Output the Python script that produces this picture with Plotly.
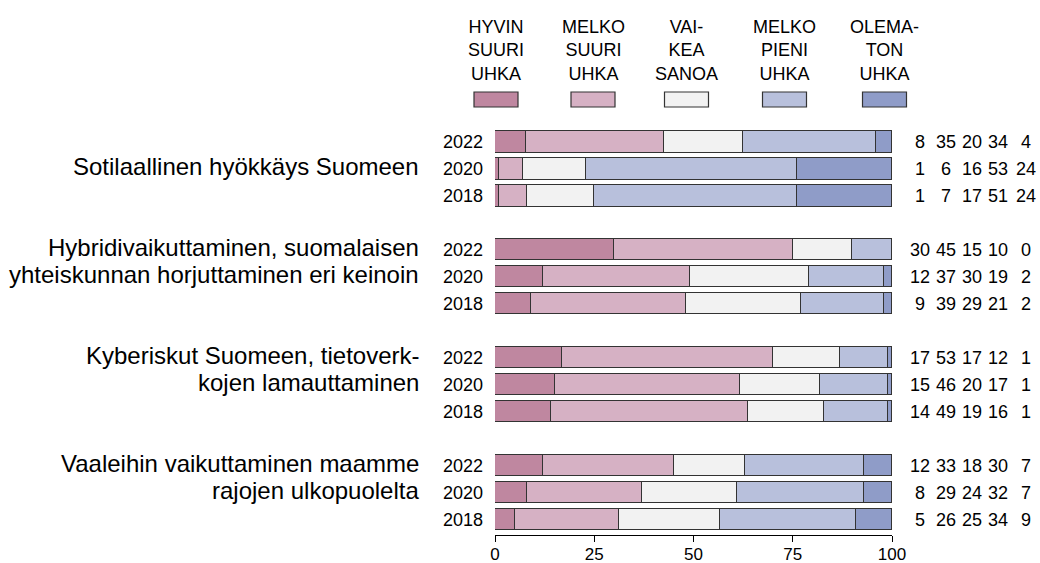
import plotly.graph_objects as go

categories = [
    "Sotilaallinen hyökkäys Suomeen",
    "Hybridivaikuttaminen, suomalaisen<br>yhteiskunnan horjuttaminen eri keinoin",
    "Kyberiskut Suomeen, tietoverk-<br>kojen lamauttaminen",
    "Vaaleihin vaikuttaminen maamme<br>rajojen ulkopuolelta",
]
years = ["2022", "2020", "2018"]
series_names = ["HYVIN<br>SUURI<br>UHKA", "MELKO<br>SUURI<br>UHKA", "VAI-<br>KEA<br>SANOA",
                "MELKO<br>PIENI<br>UHKA", "OLEMA-<br>TON<br>UHKA"]
colors = ["#BF87A0", "#D6B1C4", "#F2F2F2", "#B8C0DC", "#8F9CC8"]

# values per category, per year (2022, 2020, 2018), five answer classes
values = [
    [[8, 35, 20, 34, 4], [1, 6, 16, 53, 24], [1, 7, 17, 51, 24]],
    [[30, 45, 15, 10, 0], [12, 37, 30, 19, 2], [9, 39, 29, 21, 2]],
    [[17, 53, 17, 12, 1], [15, 46, 20, 17, 1], [14, 49, 19, 16, 1]],
    [[12, 33, 18, 30, 7], [8, 29, 24, 32, 7], [5, 26, 25, 34, 9]],
]

FONT = "Arial, Liberation Sans, sans-serif"
OUT = "#333333"

# row positions: 3 bars per group + one empty row
rows, row_vals, row_years = [], [], []
for g, grp in enumerate(values):
    for i, v in enumerate(grp):
        rows.append(g * 4 + i)
        row_vals.append(v)
        row_years.append(years[i])

fig = go.Figure()
for k in range(5):
    xs = [rv[k] / sum(rv) * 100 for rv in row_vals]
    fig.add_trace(go.Bar(
        y=rows, x=xs, orientation="h", width=0.78,
        marker=dict(color=colors[k], line=dict(color=OUT, width=1.2)),
        showlegend=False, hoverinfo="skip",
    ))

annotations = []
# category labels: n lines placed so that lines sit on rows
for g, cat in enumerate(categories):
    lines = cat.split("<br>")
    n = len(lines)
    start = 1 - (n - 1)
    for j, ln in enumerate(lines):
        annotations.append(dict(
            x=0, xref="paper", y=g * 4 + start + j, yref="y", text=ln, showarrow=False,
            xanchor="right", yanchor="middle", xshift=-74, yshift=2,
            font=dict(family=FONT, size=24, color="black"),
        ))

# right-side numbers
col_shift = [28, 54, 80, 106, 134]
for r, rv in zip(rows, row_vals):
    for k, v in enumerate(rv):
        annotations.append(dict(
            x=1, xref="paper", y=r, yref="y", text=str(v), showarrow=False,
            xanchor="center", yanchor="middle", xshift=col_shift[k],
            font=dict(family=FONT, size=18, color="black"),
        ))

# legend
shapes = []
pw = 397.0
leg_centers_px = [1, 98, 191.5, 289.5, 389.5]
for k in range(5):
    c = leg_centers_px[k] / pw
    hw = 22 / pw
    shapes.append(dict(
        type="rect", xref="paper", yref="paper",
        x0=c - hw, x1=c + hw, y0=(535 - 107) / 415, y1=(535 - 92) / 415,
        fillcolor=colors[k], line=dict(color=OUT, width=1.2),
    ))
    annotations.append(dict(
        x=c, xref="paper", y=(535 - 51) / 415, yref="paper",
        text=series_names[k], showarrow=False, xanchor="center", yanchor="middle",
        font=dict(family=FONT, size=18, color="black"),
    ))

fig.update_layout(
    barmode="stack",
    width=1040, height=563,
    margin=dict(l=495, r=148, t=120, b=28),
    plot_bgcolor="white", paper_bgcolor="white",
    font=dict(family=FONT, color="black"),
    bargap=0,
    annotations=annotations,
    shapes=shapes,
    xaxis=dict(
        range=[0, 100], tickvals=[0, 25, 50, 75, 100], ticktext=["0", "25", "50", "75", "100"],
        showline=True, linecolor="black", linewidth=1, ticks="outside", ticklen=6,
        tickcolor="black", showgrid=False, zeroline=False, automargin=False,
        ticklabelstandoff=-2,
        tickfont=dict(family=FONT, size=17, color="black"),
    ),
    yaxis=dict(
        range=[14.56, -0.815], tickvals=rows, ticktext=row_years,
        showgrid=False, zeroline=False, showline=False, ticks="", automargin=False,
        ticklabelstandoff=11,
        tickfont=dict(family=FONT, size=18, color="black"),
    ),
)

fig.write_html(
    "out.html",
    config={"displayModeBar": False},
    post_script="document.body.style.margin='0';document.body.style.overflow='hidden';",
)
